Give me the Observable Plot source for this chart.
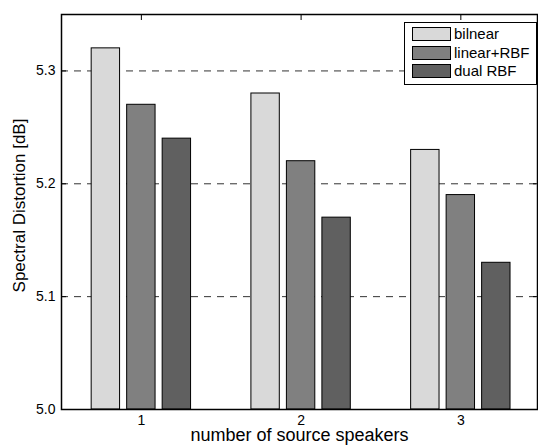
<!DOCTYPE html>
<html>
<head>
<meta charset="utf-8">
<script src="https://cdn.jsdelivr.net/npm/d3@7"></script>
<script src="https://cdn.jsdelivr.net/npm/@observablehq/plot@0.6"></script>
<style>
  body { margin: 0; background: #fff; }
  #wrap { position: relative; width: 538px; height: 448px; font-family: "Liberation Sans", Arial, sans-serif; }
  #wrap svg text { font-size: 14px; }
  #wrap svg g[aria-label="text"] text { font-size: inherit; }
  #legend { position: absolute; left: 404px; top: 22px; width: 133px; height: 63px; border: 1px solid #000; background: #fff; box-sizing: border-box; padding-top: 2px; font-family: "Liberation Sans", Arial, sans-serif; }
  #legend .row { display: flex; flex-direction: row; align-items: center; height: 18.5px; font-size: 15px; line-height: 18px; color: #000; white-space: nowrap; }
  #legend .sw { flex: none; width: 39px; height: 14px; border: 1px solid #000; margin-left: 7px; margin-right: 3px; box-sizing: border-box; }
  #legend .lbl { flex: none; font-size: 15px; }
</style>
</head>
<body>
<div id="wrap"></div>
<script>
const groups = [1, 2, 3];
const seriesNames = ["bilnear", "linear+RBF", "dual RBF"];
const bilinear = [5.32, 5.28, 5.23];
const linearRBF = [5.27, 5.22, 5.19];
const dualRBF = [5.24, 5.17, 5.13];
const seriesColors = ["#d9d9d9", "#808080", "#606060"];
const yTicks = [5.0, 5.1, 5.2, 5.3];
const gridTicks = [5.1, 5.2, 5.3];
const xLabel = "number of source speakers";
const yLabel = "Spectral Distortion [dB]";

const seriesValues = [bilinear, linearRBF, dualRBF];
const groupWidth = 2 / 3;
const barStep = groupWidth / 3;
const barWidth = 0.8 * barStep;
const rows = [];
seriesValues.forEach((vals, si) => {
  vals.forEach((v, gi) => {
    const center = groups[gi] + (si - 1) * barStep;
    rows.push({series: seriesNames[si], color: seriesColors[si], x1: center - barWidth / 2, x2: center + barWidth / 2, v});
  });
});

const chart = Plot.plot({
  width: 538,
  height: 448,
  marginTop: 14,
  marginBottom: 39,
  marginLeft: 61,
  marginRight: 1,
  style: {fontFamily: '"Liberation Sans", Arial, sans-serif', fontSize: "14px", color: "#000", background: "#fff"},
  x: {domain: [0.5, 3.48]},
  y: {domain: [5.0, 5.35]},
  marks: [
    Plot.ruleY(gridTicks, {stroke: "#333", strokeWidth: 1, strokeDasharray: "7,6"}),
    Plot.rectY(rows, {x1: "x1", x2: "x2", y1: 5.0, y2: "v", fill: "color", stroke: "#000", strokeWidth: 1}),
    Plot.axisY({ticks: yTicks, tickFormat: d3.format(".1f"), tickSize: -5, tickPadding: 11, label: null}),
    Plot.axisY({anchor: "right", ticks: yTicks, tickSize: -5, tickFormat: () => "", label: null}),
    Plot.axisX({ticks: groups, tickSize: 0, tickPadding: 6, tickFormat: d3.format("d"), label: null}),
    Plot.axisX({anchor: "top", ticks: groups, tickSize: -5, tickFormat: () => "", label: null}),
    Plot.text([yLabel], {text: d => d, frameAnchor: "left", textAnchor: "middle", rotate: -90, dx: -42, dy: -6.5, fontSize: 17, fill: "#000"}),
    Plot.text([xLabel], {text: d => d, frameAnchor: "bottom", textAnchor: "middle", dy: 31.5, fontSize: 18, fill: "#000"}),
    Plot.frame({stroke: "#000", strokeWidth: 1.5})
  ]
});

const wrap = document.getElementById("wrap");
wrap.appendChild(chart);
const legend = document.createElement("div");
legend.id = "legend";
seriesNames.forEach((name, i) => {
  const row = document.createElement("div");
  row.className = "row";
  const sw = document.createElement("div");
  sw.className = "sw";
  sw.style.background = seriesColors[i];
  const t = document.createElement("span");
  t.className = "lbl";
  t.textContent = name;
  row.appendChild(sw);
  row.appendChild(t);
  legend.appendChild(row);
});
wrap.appendChild(legend);
</script>
</body>
</html>
